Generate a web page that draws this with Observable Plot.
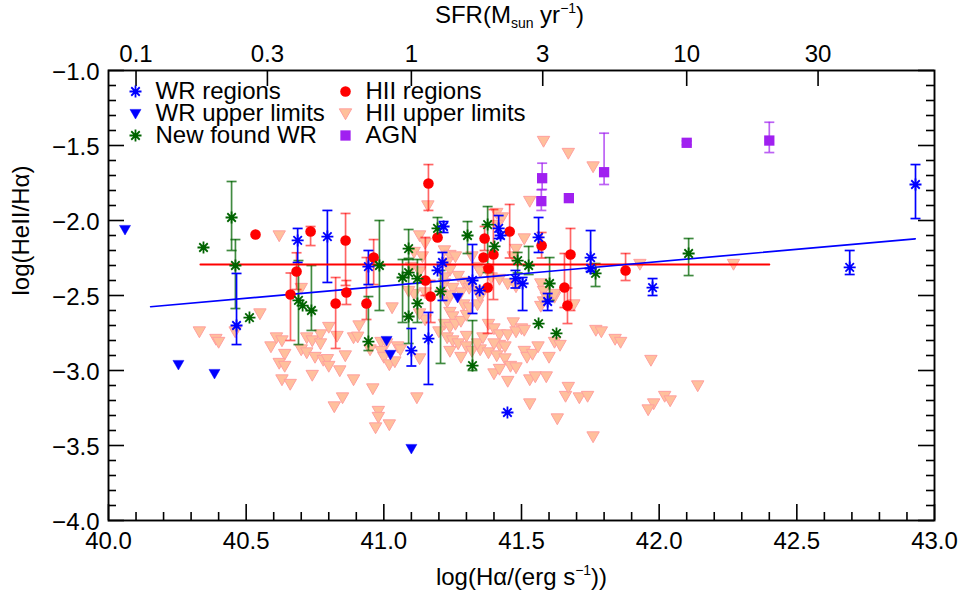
<!DOCTYPE html>
<html><head><meta charset="utf-8">
<script src="https://cdn.jsdelivr.net/npm/d3@7"></script>
<script src="https://cdn.jsdelivr.net/npm/@observablehq/plot@0.6"></script>
<style>html,body{margin:0;padding:0;background:#fff}</style>
</head><body><div id="chart"></div>
<script>
// ---------------- data (x = log Hα luminosity, y = log HeII/Hα) ----------------
// [x, y, errTop, errBottom]  (null = no error bar)
const wrRegions = [
  [40.465,-2.700,-2.353,-2.827],[40.687,-2.133,-2.053,-2.280],[40.795,-2.107,-1.933,-2.413],
  [40.944,-2.307,-2.200,-2.427],[41.217,-2.040,-2.007,-2.080],[41.213,-2.280,-2.213,-2.533],
  [41.195,-2.333,null,null],[41.322,-2.400,-2.160,-2.620],[41.348,-2.467,null,null],
  [41.417,-2.053,-1.967,-2.120],[41.424,-2.100,null,null],[41.478,-2.387,-2.333,-2.450],
  [41.504,-2.420,-2.380,-2.600],[41.562,-2.113,-1.980,-2.213],[41.751,-2.247,-2.067,-2.340],
  [41.751,-2.320,null,null],[41.595,-2.540,-2.487,-2.600],[41.100,-2.867,-2.720,-2.970],
  [41.162,-2.787,-2.613,-3.093],[41.449,-3.280,null,null],[41.976,-2.447,-2.387,-2.500],
  [42.692,-2.313,-2.200,-2.360],[42.931,-1.760,-1.627,-1.987]
];
const wrUpper = [
  [40.06,-2.06],[40.254,-2.96],[40.385,-3.02],[41.01,-2.80],[41.024,-2.893],[41.10,-3.52],[41.268,-2.513]
];
const newWR = [
  [40.447,-1.980,-1.740,-2.200],[40.461,-2.300,-2.127,-2.587],[40.345,-2.180,null,null],
  [40.690,-2.533,-2.267,-2.827],[40.705,-2.567,null,null],[40.737,-2.600,-2.300,-2.733],
  [40.512,-2.647,null,null],[40.944,-2.807,-2.507,-2.867],[40.984,-2.300,-2.000,-2.600],
  [41.090,-2.187,-2.060,-2.253],[41.068,-2.380,-2.260,-2.680],[41.090,-2.347,-2.260,-2.820],
  [41.122,-2.387,-2.260,-2.680],[41.122,-2.553,null,null],[41.090,-2.640,null,null],
  [41.195,-2.053,-1.980,-2.113],[41.206,-2.473,-2.333,-2.953],[41.304,-2.100,-2.007,-2.220],
  [41.377,-2.027,-1.907,-2.347],[41.402,-2.173,null,null],[41.322,-2.967,-2.667,-3.000],
  [41.486,-2.267,-2.213,-2.350],[41.526,-2.300,-2.173,-2.360],[41.602,-2.420,-2.247,-2.533],
  [41.562,-2.687,null,null],[41.627,-2.753,null,null],[41.769,-2.353,-2.287,-2.440],
  [42.107,-2.220,-2.120,-2.367]
];
const hiiRegions = [
  [40.534,-2.093,null,null],[40.734,-2.073,-2.040,-2.167],[40.683,-2.340,-2.215,-2.460],
  [40.661,-2.493,-2.350,-2.800],[40.861,-2.133,-1.953,-2.433],[40.864,-2.480,-2.400,-2.560],
  [40.825,-2.553,-2.380,-2.853],[40.963,-2.247,-2.127,-2.427],[40.937,-2.553,-2.247,-2.660],
  [41.162,-1.753,-1.627,-1.933],[41.151,-2.400,-2.113,-2.500],[41.170,-2.507,-2.400,-2.680],
  [41.195,-2.113,null,null],[41.366,-2.120,-2.040,-2.200],[41.362,-2.247,null,null],
  [41.380,-2.320,null,null],[41.377,-2.447,-2.310,-2.753],[41.398,-2.227,-1.927,-2.527],
  [41.457,-2.073,-1.893,-2.250],[41.573,-2.167,-2.080,-2.250],[41.678,-2.227,-2.053,-2.600],
  [41.656,-2.447,-2.220,-2.580],[41.667,-2.567,-2.450,-2.687],[41.878,-2.333,-2.220,-2.400]
];
const hiiUpper = [
  [40.33,-2.74],[40.39,-2.79],[40.40,-2.81],[40.46,-2.74],[40.55,-2.62],[40.59,-2.84],[40.61,-2.78],
  [40.63,-2.80],[40.64,-2.89],[40.62,-2.95],[40.64,-2.97],[40.63,-3.06],[40.66,-3.09],[40.70,-2.45],
  [40.72,-2.78],[40.74,-2.80],[40.70,-2.86],[40.72,-2.88],[40.75,-2.91],[40.77,-2.76],[40.77,-2.82],
  [40.80,-2.71],[40.78,-2.93],[40.795,-2.925],[40.80,-2.97],[40.83,-2.77],[40.86,-2.90],[40.84,-3.00],
  [40.74,-3.03],[40.89,-3.06],[40.85,-3.18],[40.82,-3.24],[40.91,-2.70],[40.89,-2.78],[40.905,-2.775],
  [40.96,-3.12],[40.95,-2.86],[40.98,-3.27],[40.98,-3.31],[40.97,-3.38],[41.02,-3.36],[41.03,-2.58],
  [40.99,-2.81],[41.01,-2.82],[40.99,-2.87],[41.00,-2.91],[41.02,-2.96],[41.04,-2.94],[41.05,-2.84],
  [40.62,-2.10],
  [41.06,-2.86],[41.13,-2.92],[41.12,-3.18],[41.15,-2.66],[41.13,-2.62],[41.21,-2.49],[41.23,-2.54],
  [41.24,-2.61],[41.22,-2.69],[41.24,-2.71],[41.25,-2.64],[41.26,-2.69],[41.28,-2.67],[41.30,-2.63],
  [41.29,-2.56],[41.31,-2.58],[41.34,-2.56],[41.35,-2.51],[41.28,-2.48],[41.20,-2.74],[41.23,-2.78],
  [41.25,-2.80],[41.27,-2.82],[41.30,-2.77],[41.30,-2.84],[41.24,-2.87],[41.28,-2.91],[41.32,-2.87],
  [41.35,-2.86],[41.38,-2.88],[41.34,-2.82],[41.36,-2.78],[41.38,-2.69],[41.40,-2.72],[41.42,-2.76],
  [41.42,-2.83],[41.40,-2.82],[41.41,-2.90],[41.44,-2.84],[41.44,-2.92],[41.40,-3.02],[41.42,-2.99],
  [41.45,-3.07],[41.46,-2.97],[41.48,-2.98],[41.47,-2.68],[41.50,-2.72],[41.51,-2.87],[41.52,-2.91],
  [41.54,-2.89],[41.56,-2.84],[41.60,-2.91],[41.53,-3.06],[41.55,-3.04],[41.59,-3.04],[41.53,-3.22],
  [41.63,-3.32],[41.66,-3.17],[41.67,-3.11],[41.71,-3.18],[41.74,-3.17],[41.62,-2.81],[41.64,-2.83],
  [41.45,-2.76],[41.48,-2.74],[41.51,-2.73],[41.69,-2.56],[41.57,-2.57],[41.58,-2.54],[41.62,-2.51],
  [41.77,-2.73],[41.79,-2.74],[41.84,-2.79],[41.86,-2.81],[41.76,-3.44],[41.22,-2.42],[41.25,-2.45],
  [41.29,-2.41],[41.31,-2.45],[41.34,-2.47],
  [41.97,-2.93],[42.14,-3.10],[42.02,-3.17],[42.04,-3.20],[41.98,-3.22],[41.96,-3.26],[41.93,-2.29],
  [42.27,-2.29],
  [41.58,-1.47],[41.67,-1.55],[41.76,-1.64],[41.53,-1.87],[41.16,-1.90],[41.51,-2.12],[41.48,-2.19],
  [41.13,-2.10],[41.15,-2.15],[41.11,-2.21],[41.14,-2.24],[41.10,-2.31],[41.13,-2.34],[41.22,-2.20],
  [41.24,-2.23],[41.26,-2.24],[41.23,-2.28],[41.24,-2.33],[41.27,-2.37],[41.22,-2.38],[41.31,-2.42],
  [41.41,-1.95],[41.43,-1.98],[41.41,-2.03],[41.47,-2.24],[41.32,-2.24],[41.34,-2.31],[41.35,-2.34],
  [41.39,-2.38],[41.42,-2.39],[41.45,-2.42],[41.48,-2.44],[41.57,-2.42],[41.58,-2.47],[41.62,-2.49],
  [41.59,-2.51],[41.24,-2.50],[41.11,-2.49],[41.09,-2.47],[41.15,-2.48]
];
const agn = [
  [41.575,-1.718,-1.618,-1.793],[41.572,-1.871,-1.795,-1.933],[41.672,-1.851,null,null],
  [41.800,-1.678,-1.418,-1.760],[42.100,-1.482,-1.470,-1.495],[42.400,-1.467,-1.345,-1.547]
];
// fitted relations (end points)
const fitHII = [[40.334,-2.293],[42.40,-2.293]];
const fitWR  = [[40.153,-2.575],[42.93,-2.122]];

// axes
const xMajor = [40, 40.5, 41, 41.5, 42, 42.5, 43];
const xMinor = d3.range(40.1, 43.0, 0.1).filter(v => Math.abs(v*2 - Math.round(v*2)) > 1e-6);
const yMajor = [-4, -3.5, -3, -2.5, -2, -1.5, -1];
const yMinor = d3.range(-3.9, -1.0, 0.1).filter(v => Math.abs(v*2 - Math.round(v*2)) > 1e-6);
const sfrTicks = [0.1, 0.3, 1, 3, 10, 30];
const sfrLabels = ["0.1", "0.3", "1", "3", "10", "30"];
const sfrZero = 41.1; // log L(Hα) at SFR = 1 Msun/yr

const legendLeft  = ["WR regions", "WR upper limits", "New found WR"];
const legendRight = ["HII regions", "HII upper limits", "AGN"];

// ---------------- rendering ----------------
const W = 966, H = 592, mL = 108, mR = 32, mT = 70, mB = 72;
const iw = W - mL - mR, ih = H - mT - mB;
const FONT = "'Liberation Sans', Arial, Helvetica, sans-serif";
const FS = 24;
const BLUE = "#0000ff", GREEN = "#006400", RED = "#ff0000", PURPLE = "#a020f0";
const ULFILL = "#ffc09c", ULSTROKE = "#ff9f9f";

const rad = s => Math.sqrt(s / Math.PI);
const asterisk = {draw(c, s) { const r = rad(s), d = r * Math.SQRT1_2;
  c.moveTo(0,-r); c.lineTo(0,r); c.moveTo(-r,0); c.lineTo(r,0);
  c.moveTo(-d,-d); c.lineTo(d,d); c.moveTo(-d,d); c.lineTo(d,-d); }};
const triDown = {draw(c, s) { const r = rad(s);
  c.moveTo(-r, -0.75*r); c.lineTo(r, -0.75*r); c.lineTo(0, r); c.closePath(); }};
const cap = {draw(c, s) { const r = rad(s); c.moveTo(-r,0); c.lineTo(r,0); }};

const obj = a => a.map(([x,y,hi,lo]) => ({x, y, hi, lo}));
const WR = obj(wrRegions), NW = obj(newWR), HR = obj(hiiRegions), AG = obj(agn);
const WU = obj(wrUpper), HU = obj(hiiUpper);

function bars(data, color, op) {
  const d = data.filter(v => v.hi != null);
  return [
    Plot.ruleX(d, {x: "x", y1: "lo", y2: "hi", stroke: color, strokeOpacity: op, strokeWidth: 1.7}),
    Plot.dot(d, {x: "x", y: "hi", symbol: cap, r: 5, stroke: color, strokeOpacity: op, strokeWidth: 1.7}),
    Plot.dot(d, {x: "x", y: "lo", symbol: cap, r: 5, stroke: color, strokeOpacity: op, strokeWidth: 1.7})
  ];
}

const markerSpec = {
  "WR regions":      {symbol: asterisk, r: 6, stroke: BLUE, fill: "none", strokeWidth: 1.8},
  "WR upper limits": {symbol: triDown, r: 5.5, fill: BLUE, stroke: BLUE, strokeWidth: 0.5},
  "New found WR":    {symbol: asterisk, r: 6, stroke: GREEN, fill: "none", strokeWidth: 1.8},
  "HII regions":     {symbol: "circle", r: 5.3, fill: RED, stroke: "none"},
  "HII upper limits":{symbol: triDown, r: 6.2, fill: ULFILL, stroke: ULSTROKE, strokeWidth: 1},
  "AGN":             {symbol: "square", r: 5.8, fill: PURPLE, stroke: "none"}
};

const tickStyle = {stroke: "#000", strokeWidth: 1.6};
const rowDy = [21, 43, 65];
const legendMarks = [];
[[legendLeft, 27, 47], [legendRight, 237, 257]].forEach(([labels, mx, tx]) => {
  labels.forEach((lab, i) => {
    legendMarks.push(Plot.dot([lab], {frameAnchor: "top-left", dx: mx, dy: rowDy[i], ...markerSpec[lab]}));
    legendMarks.push(Plot.text([lab], {frameAnchor: "top-left", dx: tx, dy: rowDy[i], text: d => d,
      textAnchor: "start", lineAnchor: "middle", fontSize: FS, fontFamily: FONT, fill: "#000"}));
  });
});

const fmt = d3.format(".1f");
const TOP_T = "SFR(Msun yr-1)", BOT_T = "log(Hα/(erg s-1))", LEFT_T = "log(HeII/Hα)";

const chart = Plot.plot({
  width: W, height: H, marginLeft: mL, marginRight: mR, marginTop: mT, marginBottom: mB,
  x: {domain: [40, 43], axis: null},
  y: {domain: [-4, -1], axis: null},
  style: {background: "#fff", fontFamily: FONT},
  marks: [
    Plot.dot(HU, {x: "x", y: "y", ...markerSpec["HII upper limits"]}),
    ...bars(HR, RED, 0.6),
    ...bars(NW, GREEN, 0.75),
    ...bars(WR, BLUE, 1),
    ...bars(AG, PURPLE, 0.7),
    Plot.line(fitHII, {x: d => d[0], y: d => d[1], stroke: RED, strokeWidth: 2}),
    Plot.line(fitWR, {x: d => d[0], y: d => d[1], stroke: BLUE, strokeWidth: 1.7}),
    Plot.dot(HR, {x: "x", y: "y", ...markerSpec["HII regions"]}),
    Plot.dot(NW, {x: "x", y: "y", ...markerSpec["New found WR"]}),
    Plot.dot(WR, {x: "x", y: "y", ...markerSpec["WR regions"]}),
    Plot.dot(WU, {x: "x", y: "y", ...markerSpec["WR upper limits"]}),
    Plot.dot(AG, {x: "x", y: "y", ...markerSpec["AGN"]}),
    // ticks (inward)
    Plot.tickX(xMajor, {x: d => d, insetTop: ih - 16, ...tickStyle}),
    Plot.tickX(xMinor, {x: d => d, insetTop: ih - 8, ...tickStyle}),
    Plot.tickX(sfrTicks, {x: d => Math.log10(d) + sfrZero, insetBottom: ih - 16, ...tickStyle}),
    Plot.tickY(yMajor, {y: d => d, insetRight: iw - 16, ...tickStyle}),
    Plot.tickY(yMinor, {y: d => d, insetRight: iw - 8, ...tickStyle}),
    Plot.tickY(yMajor, {y: d => d, insetLeft: iw - 16, ...tickStyle}),
    Plot.tickY(yMinor, {y: d => d, insetLeft: iw - 8, ...tickStyle}),
    Plot.frame({stroke: "#000", strokeWidth: 1.9}),
    // tick labels
    Plot.text(xMajor, {x: d => d, text: d => fmt(d), frameAnchor: "bottom", lineAnchor: "top", dy: 11,
      fontSize: FS, fontFamily: FONT, fill: "#000"}),
    Plot.text(yMajor, {y: d => d, text: d => fmt(d), frameAnchor: "left", textAnchor: "end", lineAnchor: "middle",
      dx: -9, dy: 2, fontSize: FS, fontFamily: FONT, fill: "#000"}),
    Plot.text(sfrTicks, {x: d => Math.log10(d) + sfrZero, text: (d, i) => sfrLabels[i], frameAnchor: "top",
      lineAnchor: "bottom", dy: -9, fontSize: FS, fontFamily: FONT, fill: "#000"}),
    // axis titles
    Plot.text([TOP_T], {text: d => d, frameAnchor: "top", dx: -12, dy: -55, lineAnchor: "middle",
      fontSize: FS, fontFamily: FONT, fill: "#000"}),
    Plot.text([BOT_T], {text: d => d, frameAnchor: "bottom", dy: 57, lineAnchor: "middle",
      fontSize: FS, fontFamily: FONT, fill: "#000"}),
    Plot.text([LEFT_T], {text: d => d, frameAnchor: "left", dx: -87, rotate: -90, lineAnchor: "middle",
      fontSize: FS, fontFamily: FONT, fill: "#000"}),
    ...legendMarks
  ]
});

// rich text for titles with sub/superscripts
const NS = "http://www.w3.org/2000/svg";
function rich(el, parts) {
  el.textContent = "";
  let cur = 0;
  for (const [s, shift, small] of parts) {
    const t = document.createElementNS(NS, "tspan");
    t.setAttribute("dy", shift - cur);
    if (small) t.setAttribute("font-size", small);
    t.textContent = s;
    el.appendChild(t);
    cur = shift;
  }
}
d3.select(chart).selectAll("text").each(function() {
  const s = this.textContent;
  if (s === TOP_T) rich(this, [["SFR(M", 0], ["sun", 5, 14], [" yr", 0], ["\u22121", -10, 14], [")", 0]]);
  if (s === BOT_T) rich(this, [["log(Hα/(erg s", 0], ["\u22121", -10, 14], ["))", 0]]);
});
document.getElementById("chart").appendChild(chart);
</script>
</body></html>
